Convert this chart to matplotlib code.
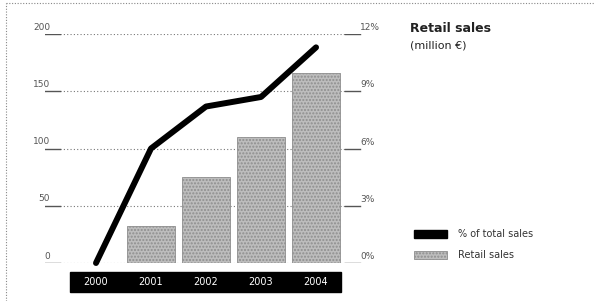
import matplotlib.pyplot as plt
from matplotlib.lines import Line2D
from matplotlib.patches import Rectangle
import matplotlib.transforms as mtransforms

# data
years = ['2000', '2001', '2002', '2003', '2004']
retail_sales = [0, 32, 75, 110, 166]          # million EUR, left axis
pct_total = [0, 6.0, 8.2, 8.7, 11.3]          # % of total sales, right axis
left_ticks = [0, 50, 100, 150, 200]
right_ticks = [0, 3, 6, 9, 12]
right_labels = ['0%', '3%', '6%', '9%', '12%']

W, H = 595, 301
plt.rcParams['font.family'] = ['DejaVu Sans']
plt.rcParams['hatch.color'] = '#9c9c9c'
fig = plt.figure(figsize=(W / 100, H / 100), dpi=100)

# axes box in pixels: x 45..365, y 34..263
ax = fig.add_axes([45 / W, 1 - 263 / H, 320 / W, 229 / H])
ax.set_xlim(-0.927, 4.89)
ax.set_ylim(0, 200)
for s in ax.spines.values():
    s.set_visible(False)
ax.set_xticks([])
ax.set_yticks([])

x = range(len(years))
ax.bar(x, retail_sales, width=0.87, color='#bdbdbd', edgecolor='#8e8e8e',
       linewidth=0.6, hatch='.....', zorder=2)

ax2 = ax.twinx()
ax2.set_ylim(0, 12)
for s in ax2.spines.values():
    s.set_visible(False)
ax2.set_xticks([])
ax2.set_yticks([])
ax2.plot(x, pct_total, color='black', lw=4.3, solid_capstyle='round',
         solid_joinstyle='round', clip_on=False, zorder=3)

# gridlines + short solid tick marks on both ends
for v in left_ticks:
    ax.axhline(v, xmin=15 / 320, xmax=300 / 320, color='#777777', lw=0.8,
               ls=(0, (1, 2)), zorder=1)
    ax.axhline(v, xmin=0, xmax=15 / 320, color='#555555', lw=1.0, zorder=1)
    ax.axhline(v, xmin=300 / 320, xmax=315 / 320, color='#555555', lw=1.0, zorder=1)
    ax.text(-0.927 + 5 / 55, v + 2, str(v), ha='right', va='bottom',
            fontsize=6.5, color='#555555')
for v, lab in zip(right_ticks, right_labels):
    ax2.text(4.89 - 5 / 55, v + 0.1, lab, ha='left', va='bottom',
             fontsize=6.5, color='#555555')

# black year band under the bars
trans = mtransforms.blended_transform_factory(ax.transData, ax.transAxes)
ax.add_patch(Rectangle((-0.47, -0.127), 4.92, 0.088, transform=trans,
                       color='black', clip_on=False, zorder=4))
for i, yr in enumerate(years):
    ax.text(i, -0.083, yr, transform=trans, ha='center', va='center',
            fontsize=7, color='white', zorder=5)

# title
fig.text(410 / W, 1 - 28 / H, 'Retail sales', fontsize=9, fontweight='bold',
         color='#222222', va='center', ha='left')
fig.text(410 / W, 1 - 46 / H, '(million €)', fontsize=8, color='#222222',
         va='center', ha='left')

# legend drawn by hand
fig.patches.append(Rectangle((414 / W, 1 - 238 / H), 33 / W, 8 / H,
                             transform=fig.transFigure, color='black', figure=fig))
fig.patches.append(Rectangle((414 / W, 1 - 259 / H), 33 / W, 8 / H,
                             transform=fig.transFigure, facecolor='#bdbdbd',
                             edgecolor='#8e8e8e', hatch='.....', lw=0.6, figure=fig))
fig.text(458 / W, 1 - 234 / H, '% of total sales', fontsize=7, color='#333333',
         va='center', ha='left')
fig.text(458 / W, 1 - 255 / H, 'Retail sales', fontsize=7, color='#333333',
         va='center', ha='left')

# dotted frame on top and left
fig.lines.append(Line2D([6 / W, 1], [1 - 3 / H, 1 - 3 / H], transform=fig.transFigure,
                        color='#888888', lw=0.8, ls=(0, (1, 1.5))))
fig.lines.append(Line2D([6 / W, 6 / W], [0, 1 - 3 / H], transform=fig.transFigure,
                        color='#888888', lw=0.8, ls=(0, (1, 1.5))))

fig.savefig('out.png', dpi=100)
